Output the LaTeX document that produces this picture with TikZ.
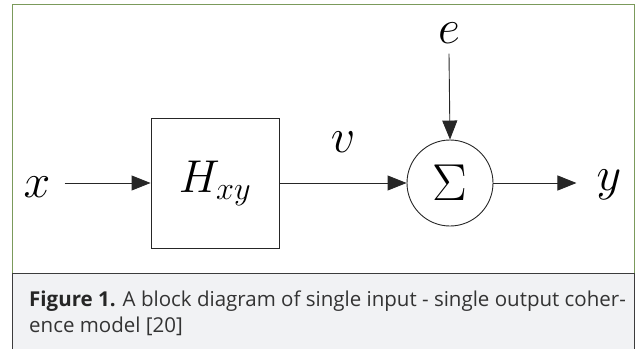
\documentclass[tikz,border=0pt]{standalone}
\usepackage{fix-cm}
\usepackage{fontspec}
\newfontfamily\capfont{Open Sans}
\usetikzlibrary{positioning, arrows.meta}
\definecolor{framegreen}{HTML}{7B9A5B}
\definecolor{capfill}{HTML}{F1F2F4}
\definecolor{capstroke}{HTML}{3C3C3C}
\definecolor{linegray}{HTML}{262626}
\definecolor{captext}{HTML}{333333}

\begin{document}
\begin{tikzpicture}[
    x=1pt, y=-1pt,
    block/.style={
        draw=linegray, line width=0.9pt, minimum width=128pt, minimum height=130pt,
        inner sep=0pt, font=\fontsize{46}{50}\selectfont
    },
    sumnode/.style={
        draw=linegray, circle, line width=0.9pt, minimum size=86pt,
        inner sep=0pt, font=\fontsize{52}{56}\selectfont
    },
    sig/.style={
        inner sep=0pt, font=\fontsize{48}{52}\selectfont
    },
    arr/.style={
        -{Triangle[length=19pt, width=15pt]}, line width=0.9pt, color=linegray
    }
]
\useasboundingbox (0,0) rectangle (641,349);

% Frame and caption box
\fill[capfill] (12.3,273.3) rectangle (634.3,349);
\draw[framegreen, line width=0.8pt] (12.3,273.3) -- (12.3,4.7) -- (634.3,4.7) -- (634.3,273.3);
\draw[capstroke, line width=0.8pt] (12.3,349) -- (12.3,273.3) -- (634.3,273.3) -- (634.3,349);

% Blocks
\node[block] (hxy) at (215,183) {$H_{xy}$};
\node[sumnode] (sum) at (450,183) {$\Sigma$};

% Signals
\node[sig] (xin) at (37,187) {$x$};
\node[sig] (vsig) at (343,142) {$v$};
\node[sig] (enoise) at (449,33) {$e$};
\node[sig] (yout) at (609,185) {$y$};

% Connectors
\draw[arr] ([xshift=14pt]xin.east |- hxy.west) -- (hxy.west);
\draw[arr] (hxy.east) -- (sum.west);
\draw[arr] ([yshift=-10pt]enoise.south) -- (sum.north);
\draw[arr] (sum.east) -- ([xshift=-20pt]yout.west |- sum.east);

% Caption
\node[anchor=north west, align=left, inner sep=0pt, text=captext,
      font=\capfont\fontsize{20.5}{26.6}\selectfont] (caption) at (29,290.5)
    {\textbf{\color{black!85}Figure 1.} A block diagram of single input - single output coher-\\ence model [20]};

\end{tikzpicture}
\end{document}
